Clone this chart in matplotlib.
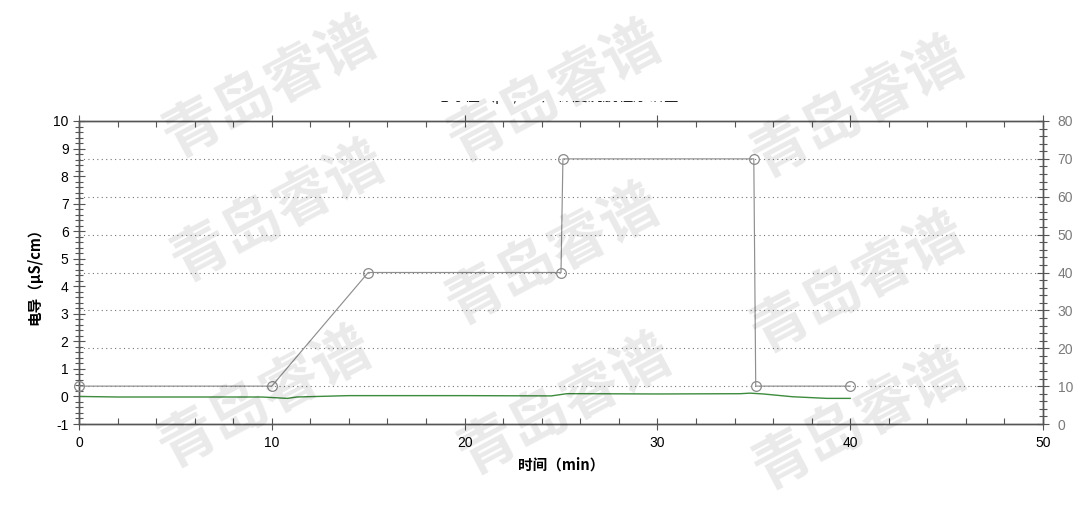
import matplotlib
matplotlib.use("Agg")
import matplotlib.pyplot as plt
from matplotlib.ticker import MultipleLocator
from matplotlib.patches import Rectangle

plt.rcParams["axes.unicode_minus"] = False

# ---- data ----
grad_time = [0, 10, 15, 25, 25.1, 35, 35.1, 40]
grad_pct = [10, 10, 40, 40, 70, 70, 10, 10]

cond_time = [0, 2, 9.5, 10.8, 11.3, 14, 20, 24.5, 25.3, 26, 30, 34.3, 34.8, 35.5, 37, 38.8, 40]
cond_val = [0.0, -0.02, -0.02, -0.07, -0.02, 0.03, 0.03, 0.02, 0.1, 0.1, 0.09, 0.1, 0.12, 0.09, -0.01, -0.07, -0.07]

x_ticks = [0, 10, 20, 30, 40, 50]
left_ticks = [-1, 0, 1, 2, 3, 4, 5, 6, 7, 8, 9, 10]
right_ticks = [0, 10, 20, 30, 40, 50, 60, 70, 80]
grid_levels = [10, 20, 30, 40, 50, 60, 70]

title_text = "电导值（μS/cm）梯度洗脱程序谱图 - 1"
xlabel = "时间（min）"
ylabel = "电导（μS/cm）"
watermark = "青岛睿谱"
wm_pos = [(270, 88), (555, 92), (858, 108),
          (278, 212), (553, 255), (858, 283),
          (265, 398), (565, 405), (860, 420)]

CJK = ["Noto Sans CJK SC", "DejaVu Sans"]
NUM = ["Liberation Sans", "DejaVu Sans"]

W, H = 1079, 505
fig = plt.figure(figsize=(W / 100, H / 100), dpi=100)
ax = fig.add_axes([79 / W, 1 - 424 / H, (1043 - 79) / W, (424 - 121) / H])
ax2 = ax.twinx()

spine_c = "#555555"
for a in (ax, ax2):
    for s in a.spines.values():
        s.set_color(spine_c)
        s.set_linewidth(1.0)

ax.set_xlim(0, 50)
ax.set_ylim(-1, 10)
ax2.set_ylim(0, 80)

ax.set_xticks(x_ticks)
ax.xaxis.set_minor_locator(MultipleLocator(2))
ax.set_yticks(left_ticks)
ax.yaxis.set_minor_locator(MultipleLocator(0.2))
ax2.set_yticks(right_ticks)
ax2.yaxis.set_minor_locator(MultipleLocator(2))

ax.tick_params(axis="x", which="major", direction="inout", length=9, width=0.8,
               color=spine_c, top=True, labelsize=10, pad=4)
ax.tick_params(axis="x", which="minor", direction="in", length=4, width=0.8,
               color=spine_c, top=True)
ax.tick_params(axis="y", which="major", direction="inout", length=9, width=0.8,
               color=spine_c, labelsize=10, pad=3)
ax.tick_params(axis="y", which="minor", direction="inout", length=6, width=0.8,
               color=spine_c)
ax2.tick_params(axis="y", which="major", direction="inout", length=9, width=0.8,
                color=spine_c, labelsize=10, labelcolor="#7a7a7a", pad=6)
ax2.tick_params(axis="y", which="minor", direction="inout", length=6, width=0.8,
                color=spine_c)

for lab in ax.get_xticklabels() + ax.get_yticklabels() + ax2.get_yticklabels():
    lab.set_family(NUM)

# horizontal dotted grid at gradient levels
for g in grid_levels:
    ax2.axhline(g, color="#777777", lw=0.8, ls=(0, (1, 3)), zorder=1)

ax.plot(cond_time, cond_val, color="#3d8b3d", lw=1.0, zorder=3)
ax2.plot(grad_time, grad_pct, color="#8f8f8f", lw=0.85, marker="o", ms=7,
         mfc="none", mec="#8a8a8a", mew=0.9, zorder=4, clip_on=False)

ax.set_xlabel(xlabel, family=CJK, fontsize=10.5, fontweight="bold", labelpad=5)
ax.set_ylabel(ylabel, family=CJK, fontsize=10.5, fontweight="bold", labelpad=8)

# partially hidden title
fig.text(567 / W, 1 - 97 / H, title_text, family=CJK, fontsize=11,
         ha="center", va="center", color="#222222", zorder=1)
fig.patches.append(Rectangle((0, 1 - 101 / H), 1, 101 / H, transform=fig.transFigure,
                             facecolor="white", edgecolor="none", zorder=2))

# watermarks
for (px, py) in wm_pos:
    fig.text(px / W, 1 - py / H, watermark, family=CJK, fontsize=42,
             fontweight="bold", rotation=28, ha="center", va="center",
             color=(0, 0, 0, 0.085), zorder=5)

fig.savefig("out.png", dpi=100)
